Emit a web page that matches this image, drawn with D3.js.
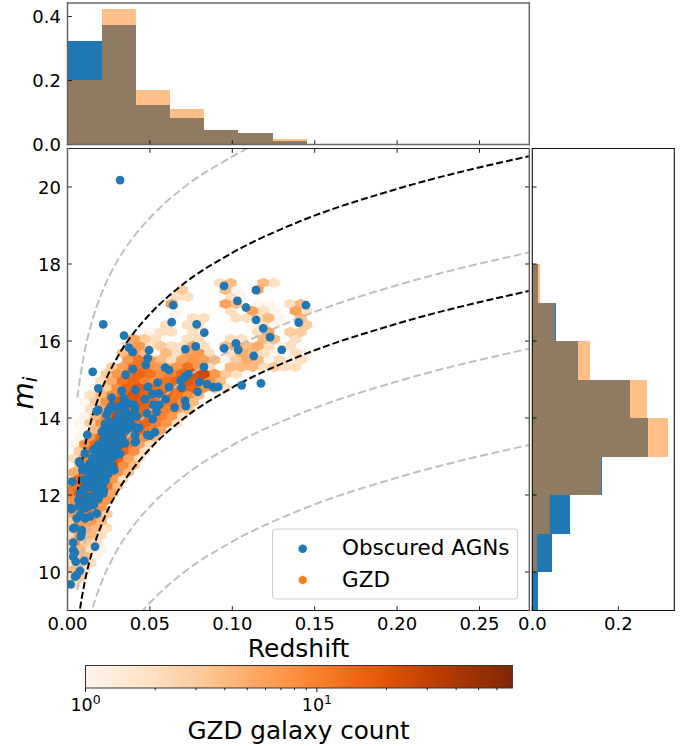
<!DOCTYPE html>
<html>
<head>
<meta charset="utf-8">
<script src="https://d3js.org/d3.v7.min.js"></script>
<style>
body { margin: 0; background: #fff; }
text { font-family: "DejaVu Sans", sans-serif; fill: #000; }
</style>
</head>
<body>
<div id="svgcontainer"></div>
<script>
// histogram data
const zBinEdges = [0, 0.0207, 0.0415, 0.0622, 0.083, 0.1037, 0.1245, 0.1452];
const zHistAgn = [0.322, 0.373, 0.125, 0.083, 0.046, 0.036, 0.0125];
const zHistGzd = [0.203, 0.422, 0.169, 0.110, 0.045, 0.035, 0.016];
const mBinEdges = [9, 10, 11, 12, 13, 14, 15, 16, 17, 18];
const mHistAgn = [0.014, 0.0457, 0.0876, 0.162, 0.269, 0.227, 0.107, 0.055, 0.013];
const mHistGzd = [0.001, 0.010, 0.040, 0.160, 0.315, 0.266, 0.134, 0.053, 0.018];

const zTicks = [0, 0.05, 0.10, 0.15, 0.20, 0.25];
const mTicks = [10, 12, 14, 16, 18, 20];
const topTicks = [0, 0.2, 0.4];
const rightTicks = [0, 0.2];
const cbarMinor = [2, 3, 4, 5, 6, 7, 8, 9, 20, 30, 40, 50, 60];

// dashed curves
const curveZ = [0.006, 0.008, 0.01, 0.015, 0.02, 0.03, 0.04, 0.05, 0.07, 0.1, 0.14, 0.2, 0.28];
const grayCurves = [
  [4.53, 5.15, 5.64, 6.53, 7.16, 8.06, 8.70, 9.20, 9.97, 10.79, 11.59, 12.45, 13.3],
  [7.03, 7.65, 8.14, 9.03, 9.66, 10.56, 11.2, 11.7, 12.47, 13.29, 14.09, 14.95, 15.8],
  [9.53, 10.15, 10.64, 11.53, 12.16, 13.06, 13.7, 14.2, 14.97, 15.79, 16.59, 17.45, 18.3],
  [14.53, 15.15, 15.64, 16.53, 17.16, 18.06, 18.7, 19.2, 19.97, 20.79, 21.59, 22.45, 23.3]
];
const blackCurves = [
  [8.53, 9.15, 9.64, 10.53, 11.16, 12.06, 12.7, 13.2, 13.97, 14.79, 15.59, 16.45, 17.3],
  [12.03, 12.65, 13.14, 14.03, 14.66, 15.56, 16.2, 16.7, 17.47, 18.29, 19.09, 19.95, 20.8]
];

// hexbin lattice
const hexZ0 = 0.0925, hexDz = 0.00655, hexM0 = 17.51, hexDm = 0.182;
// [row, first column, counts...]
const hexRows = [
  [0, 0, [2,4,0,0,4,2]],
  [1, -4, [3,0,0,0,4,1,0,6]],
  [2, -4, [2,2,0,0,0,2,1]],
  [3, -5, [6,0,0,0,0,6,4,0,1,1,0,2,4]],
  [4, -4, [1,0,0,0,0,2,0,6,2,1,0,6,2]],
  [5, -3, [2,2,0,0,2,2,2,4,1,0,4]],
  [6, -5, [2,0,2,2,0,0,0,0,1,2,1,0,0,3]],
  [7, -7, [1,2,2,0,2,1,0,0,0,0,2,6,0,3,3]],
  [8, -8, [6,3,2,0,0,2,2,0,0,2,2,0,4,4,0,2]],
  [9, -9, [3,7,2,3,2,2,6,2,0,4,6,4,5,2,1,2]],
  [10, -9, [4,7,4,1,4,2,6,7,2,0,2,5,4,2,1,0,2,1]],
  [11, -9, [7,12,7,4,2,6,7,6,4,1,3,5,4,1,2,1,2]],
  [12, -10, [3,6,12,12,7,4,7,12,7,2,0,4,4,4,2,3,2,2]],
  [13, -11, [3,7,12,15,12,8,10,15,22,25,7,3,2]],
  [14, -11, [2,5,12,15,10,8,12,15,20,15,8,4]],
  [15, -12, [1,3,8,15,18,15,12,12,15,15,8,5,2]],
  [16, -12, [2,4,8,15,20,15,12,15,12,8,4]],
  [17, -13, [1,3,8,20,15,18,15,12,12,8,4]],
  [18, -12, [2,5,12,25,15,15,12,10,7,4]],
  [19, -13, [1,4,10,25,30,15,12,10,7,2]],
  [20, -13, [1,3,8,25,30,15,15,10,7,2]],
  [21, -13, [1,4,20,25,15,15,10,6]],
  [22, -13, [1,7,15,20,15,12,8,4]],
  [23, -14, [1,8,15,20,15,12,6,2]],
  [24, -13, [3,12,20,22,15,8,2]],
  [25, -14, [2,10,20,30,15,6,2]],
  [26, -13, [3,15,25,25,8,4]],
  [27, -14, [5,12,15,15,8,4]],
  [28, -14, [3,15,20,20,7,2]],
  [29, -14, [12,25,18,12,4]],
  [30, -14, [10,15,20,15,6]],
  [31, -14, [8,25,15,7]],
  [32, -14, [5,12,15,7]],
  [33, -14, [6,10,10,3]],
  [34, -14, [3,7,7,4]],
  [35, -14, [4,6,4,2]],
  [36, -14, [2,6,4,2]],
  [37, -14, [7,3,2]],
  [38, -14, [2,4,2,1]],
  [39, -14, [2,4,1]],
  [40, -14, [2,4,2]],
  [41, -14, [4,2]],
  [42, -14, [2,3]],
  [43, -14, [2]]
];

// obscured AGN points
const agnZ = [.0950,.1144,.1031,.1083,.1447,.1144,.1403,.1188,.1229,.0642,.0632,.0784,.0830,.0217,.0343,.0373,.0396,.0495,.0487,.0475,.0715,.0778,.0950,.1022,.1036,.1130,.1300,.0153,.0396,.0353,.0592,.0616,.0828,.0733,.0713,.0687,.0800,.0848,.0885,.0915,.1057,.1174,.0187,.0329,.0411,.0488,.0547,.0616,.0693,.0790,.0268,.0515,.0555,.0470,.0596,.0713,.0719,.0650,.0521,.0557,.0343,.0369,.0404,.0187,.0258,.0288,.0349,.0410,.0481,.0541,.0517,.0238,.0308,.0369,.0390,.0258,.0288,.0329,.0369,.0434,.0208,.0258,.0299,.0349,.0120,.0531,.0501,.0410,.0410,.0349,.0248,.0288,.0308,.0187,.0238,.0278,.0319,.0157,.0208,.0258,.0288,.0076,.0106,.0137,.0187,.0238,.0167,.0208,.0248,.0284,.0029,.0126,.0187,.0217,.0217,.0137,.0157,.0076,.0126,.0066,.0025,.0076,.0056,.0106,.0137,.0177,.0106,.0035,.0086,.0080,.0035,.0167,.0035,.0035,.0102,.0076,.0056,.0046,.0019,.0319,.0221,.0252,.0171,.0201,.0242,.0292,.0282,.0151,.0181,.0232,.0221,.0171,.0070,.0090,.0141,.0080,.0120,.0019,.0070,.0404,.0414,.0484,
  .0228,.0268,.0310,.0345,.0380,.0215,.0262,.0300,.0330,.0360,.0190,.0230,.0270,.0310,.0335,.0175,.0215,.0255,.0285,.0150,.0195,.0225,.0265,.0130,.0170,.0200,.0235,.0110,.0100,.0150,.0185,.0095,.0120,.0165,.0190,.0085,.0105,.0135,.0160,.0140,.0045,.0085,.0045,.0050,.0177,.0268,.0322,.0247,.0340,.0420];
const agnM = [17.43,17.32,17.04,16.87,16.93,16.55,16.48,16.33,16.10,16.93,16.49,16.43,16.22,16.43,16.14,15.83,15.71,15.76,15.55,15.38,15.79,15.86,15.81,15.94,15.77,15.61,15.77,15.20,15.27,15.12,15.31,15.25,15.33,15.14,15.07,14.97,14.94,14.88,14.80,14.81,14.85,14.90,14.77,14.71,14.73,14.81,14.92,14.80,14.79,14.68,14.53,14.62,14.64,14.49,14.49,14.45,14.31,14.27,14.34,14.34,14.51,14.38,14.34,14.21,14.25,14.25,14.21,14.25,14.12,14.16,13.97,14.08,14.03,14.03,14.08,13.90,13.86,13.90,13.86,13.75,13.64,13.69,13.73,13.77,13.56,13.63,13.54,13.56,13.37,13.34,13.51,13.51,13.60,13.30,13.30,13.34,13.07,13.17,13.10,13.08,13.12,12.82,13.08,12.82,12.82,12.87,12.60,12.65,12.55,12.65,12.35,12.47,12.47,12.30,12.04,12.22,12.26,12.04,11.96,11.87,11.63,11.48,11.39,11.39,11.44,11.52,11.65,11.13,11.09,10.92,10.76,10.66,10.57,10.40,10.29,10.03,9.92,9.88,9.68,20.18,13.69,13.51,13.21,13.17,13.08,13.04,12.65,12.95,12.73,12.39,12.13,12.13,12.87,12.65,12.47,12.04,11.87,11.66,11.71,13.77,13.39,13.56,
  13.85,13.80,13.90,13.98,13.95,13.42,13.40,13.45,13.62,13.70,13.05,13.22,13.18,13.28,13.45,12.98,12.92,12.95,13.00,12.72,12.70,12.75,12.78,12.62,12.55,12.42,12.55,12.72,12.40,12.35,12.25,12.15,12.22,12.00,11.92,11.75,11.80,11.72,11.75,11.92,11.15,11.00,10.50,10.27,14.17,14.32,14.32,14.19,14.15,14.05];

const W = 689, H = 746;
const mainBox = {l: 67.5, r: 529.3, t: 148.5, b: 610.5};
const topBox = {l: 67.5, r: 529.3, t: 3, b: 144.6};
const rightBox = {l: 532.3, r: 674.3, t: 148.5, b: 610.5};

const blue = "#1f77b4", orange = "#ff7f0e";

var svg = d3.select("#svgcontainer").append("svg")
    .attr("width", W).attr("height", H)
    .style("display", "block");

var x = d3.scaleLinear().domain([0, 0.28]).range([mainBox.l, mainBox.l + 0.28 * 1648]);
var y = d3.scaleLinear().domain([9, 21]).range([mainBox.b, mainBox.t]);
var topY = d3.scaleLinear().domain([0, 0.442]).range([topBox.b, topBox.t]);
var rightX = d3.scaleLinear().domain([0, 0.33]).range([rightBox.l, rightBox.r]);
var cbarX = d3.scaleLog().domain([1, 70]).range([85.5, 512.4]);

svg.append("clipPath").attr("id", "main-clip").append("rect")
    .attr("x", mainBox.l).attr("y", mainBox.t)
    .attr("width", mainBox.r - mainBox.l).attr("height", mainBox.b - mainBox.t);

// top histogram
function topHist(values, color, alpha) {
  svg.append("g").selectAll("rect").data(values).join("rect")
    .attr("x", (d, i) => x(zBinEdges[i]))
    .attr("width", (d, i) => x(zBinEdges[i + 1]) - x(zBinEdges[i]))
    .attr("y", d => topY(d))
    .attr("height", d => topY(0) - topY(d))
    .attr("fill", color).attr("fill-opacity", alpha)
    .attr("shape-rendering", "crispEdges");
}
topHist(zHistAgn, blue, 1);
topHist(zHistGzd, orange, 0.5);

// right histogram
function rightHist(values, color, alpha) {
  svg.append("g").selectAll("rect").data(values).join("rect")
    .attr("x", rightX(0))
    .attr("width", d => rightX(d) - rightX(0))
    .attr("y", (d, i) => y(mBinEdges[i + 1]))
    .attr("height", (d, i) => y(mBinEdges[i]) - y(mBinEdges[i + 1]))
    .attr("fill", color).attr("fill-opacity", alpha)
    .attr("shape-rendering", "crispEdges");
}
rightHist(mHistAgn, blue, 1);
rightHist(mHistGzd, orange, 0.5);

// hexbin
var hexColor = d3.scaleSequentialLog(d3.interpolateOranges).domain([1, 70]);
var cells = [];
hexRows.forEach(row => {
  row[2].forEach((count, k) => {
    if (count > 0) {
      let col = row[1] + k + (row[0] % 2 ? 0.5 : 0);
      cells.push({z: hexZ0 + col * hexDz, m: hexM0 - row[0] * hexDm, count: count});
    }
  });
});
cells.sort((a, b) => a.count - b.count);
// a bit larger than the lattice, the cells look that way in the reference
function hexPath(d) {
  let cx = x(d.z), cy = y(d.m);
  let hw = (x(hexDz) - x(0)) / 2 * 1.08, hh = (y(0) - y(2 * hexDm)) / 3 * 1.12;
  let pts = [[0, -hh], [hw, -hh / 2], [hw, hh / 2], [0, hh], [-hw, hh / 2], [-hw, -hh / 2]];
  return "M" + pts.map(p => [cx + p[0], cy + p[1]].join(",")).join("L") + "Z";
}
var main_g = svg.append("g").attr("clip-path", "url(#main-clip)");
main_g.append("g").selectAll("path").data(cells).join("path")
    .attr("d", hexPath)
    .attr("fill", d => hexColor(d.count));

// dashed curves
var curveLine = d3.line()
    .x((d, i) => x(curveZ[i]))
    .y(d => y(d))
    .curve(d3.curveMonotoneX);
main_g.append("g").selectAll("path").data(grayCurves).join("path")
    .attr("d", curveLine).attr("fill", "none")
    .attr("stroke", "#bfbfbf").attr("stroke-width", 2).attr("stroke-dasharray", "8,3.5");
main_g.append("g").selectAll("path").data(blackCurves).join("path")
    .attr("d", curveLine).attr("fill", "none")
    .attr("stroke", "#000").attr("stroke-width", 2).attr("stroke-dasharray", "7,3");

// agn scatter
main_g.append("g").selectAll("circle").data(agnZ).join("circle")
    .attr("cx", d => x(d))
    .attr("cy", (d, i) => y(agnM[i]))
    .attr("r", 4.4)
    .attr("fill", blue);

// ticks and spines
function hTick(xp, y0, len) {
  svg.append("line").attr("x1", xp).attr("x2", xp).attr("y1", y0).attr("y2", y0 + len)
    .attr("stroke", "#000").attr("stroke-width", 0.9);
}
function vTick(yp, x0, len) {
  svg.append("line").attr("y1", yp).attr("y2", yp).attr("x1", x0).attr("x2", x0 + len)
    .attr("stroke", "#000").attr("stroke-width", 0.9);
}
function spine(x1, y1, x2, y2, color, w) {
  svg.append("line").attr("x1", x1).attr("y1", y1).attr("x2", x2).attr("y2", y2)
    .attr("stroke", color).attr("stroke-width", w).attr("stroke-linecap", "square");
}
function label(xp, yp, txt, size, anchor) {
  return svg.append("text").attr("x", xp).attr("y", yp).attr("font-size", size)
    .attr("text-anchor", anchor || "middle").text(txt);
}

zTicks.forEach(t => {
  hTick(x(t), topBox.b, -4.3);
  hTick(x(t), mainBox.t, 4.3);
  hTick(x(t), mainBox.b, -4.3);
  label(x(t), 630, d3.format(".2f")(t), 18);
});
mTicks.forEach(t => {
  vTick(y(t), mainBox.l, 4.3);
  vTick(y(t), mainBox.r, -4.3);
  vTick(y(t), rightBox.l, 4.3);
  label(61, y(t) + 6.5, t, 18, "end");
});
topTicks.forEach(t => {
  vTick(topY(t), topBox.l, 4.3);
  label(61, topY(t) + 6.5, d3.format(".1f")(t), 18, "end");
});
rightTicks.forEach(t => {
  hTick(rightX(t), rightBox.b, -4.3);
  label(rightX(t), 630, d3.format(".1f")(t), 18);
});

// top panel spines come out grey in the reference
[[topBox.l, topBox.t, topBox.r, topBox.t], [topBox.r, topBox.t, topBox.r, topBox.b],
 [topBox.l, topBox.t, topBox.l, topBox.b], [topBox.l, topBox.b, topBox.r, topBox.b]]
  .forEach(s => spine(s[0], s[1], s[2], s[3], "#666", 1.5));
spine(mainBox.l, mainBox.t, mainBox.r, mainBox.t, "#222", 1.2);
spine(mainBox.l, mainBox.b, mainBox.r, mainBox.b, "#111", 1.2);
spine(mainBox.l, mainBox.t, mainBox.l, mainBox.b, "#666", 1.5);
spine(mainBox.r, mainBox.t, mainBox.r, mainBox.b, "#666", 1.5);
[[rightBox.l, rightBox.t, rightBox.r, rightBox.t], [rightBox.r, rightBox.t, rightBox.r, rightBox.b],
 [rightBox.l, rightBox.t, rightBox.l, rightBox.b], [rightBox.l, rightBox.b, rightBox.r, rightBox.b]]
  .forEach(s => spine(s[0], s[1], s[2], s[3], "#111", 1.1));

// legend
var lg = svg.append("g");
lg.append("rect").attr("x", 272.5).attr("y", 529).attr("width", 245).attr("height", 70)
    .attr("rx", 3).attr("fill", "#fff").attr("fill-opacity", 0.8)
    .attr("stroke", "#ccc").attr("stroke-width", 1);
lg.append("circle").attr("cx", 302.7).attr("cy", 548.7).attr("r", 4.3).attr("fill", blue);
lg.append("path").attr("fill", orange)
    .attr("d", d3.line()([[302.7, 575.5], [306.6, 577.7], [306.6, 582.3], [302.7, 584.5], [298.8, 582.3], [298.8, 577.7]]) + "Z");
label(342, 555, "Obscured AGNs", 21.5, "start");
label(342, 587, "GZD", 21.5, "start");

// axis labels
label(298.6, 657, "Redshift", 25);
svg.append("text").attr("transform", "translate(33,393) rotate(-90)")
    .attr("font-size", 28).attr("text-anchor", "middle")
    .attr("font-style", "italic").call(t => {
      t.append("tspan").text("m");
      t.append("tspan").attr("font-size", 20).attr("dy", 4).text("i");
    });

// colorbar
var grad = svg.append("defs").append("linearGradient").attr("id", "cbar-grad");
d3.range(0, 1.001, 0.04).forEach(t => {
  grad.append("stop").attr("offset", t).attr("stop-color", d3.interpolateOranges(t));
});
svg.append("rect").attr("x", 85.5).attr("y", 665.5).attr("width", 426.9).attr("height", 22.5)
    .attr("fill", "url(#cbar-grad)").attr("stroke", "#333").attr("stroke-width", 1);
[1, 10].forEach(t => {
  hTick(cbarX(t), 688, 4);
  let lab = label(cbarX(t), 711, "10", 17.5);
  lab.append("tspan").attr("font-size", 12.5).attr("dy", -7.5).text(t === 1 ? "0" : "1");
});
cbarMinor.forEach(t => hTick(cbarX(t), 688, 2.2));
label(298.6, 739, "GZD galaxy count", 24.7);
</script>
</body>
</html>
